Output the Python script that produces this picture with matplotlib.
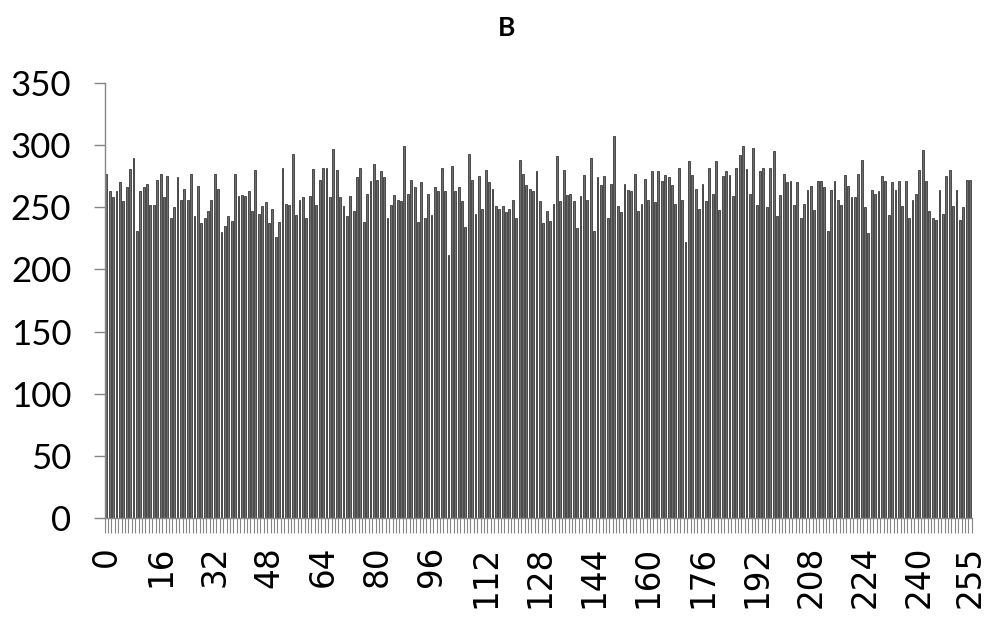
import numpy as np
import matplotlib
matplotlib.use("Agg")
import matplotlib.pyplot as plt

# Histogram counts for values 0..255
counts = [
    277, 263, 258, 263, 270, 255, 266, 281, 290, 231, 263, 266, 269, 252, 252, 272,
    277, 258, 275, 241, 250, 274, 256, 265, 256, 277, 243, 267, 237, 241, 247, 256,
    277, 265, 230, 235, 243, 239, 277, 259, 260, 259, 263, 247, 280, 245, 251, 254,
    237, 249, 226, 238, 282, 253, 252, 293, 244, 256, 258, 241, 259, 281, 252, 272,
    282, 282, 258, 297, 280, 258, 251, 243, 259, 247, 274, 282, 238, 261, 271, 285,
    272, 279, 274, 241, 252, 260, 256, 255, 299, 261, 272, 266, 238, 270, 241, 261,
    244, 266, 263, 282, 263, 212, 283, 263, 266, 255, 234, 293, 272, 245, 275, 249,
    280, 270, 265, 251, 249, 251, 246, 249, 256, 241, 288, 277, 268, 265, 263, 279,
    255, 237, 247, 239, 253, 291, 255, 280, 260, 261, 255, 233, 259, 276, 256, 290,
    231, 274, 268, 275, 241, 269, 307, 251, 246, 269, 264, 263, 277, 247, 253, 273,
    256, 279, 254, 279, 271, 276, 274, 268, 253, 282, 256, 222, 287, 276, 265, 249,
    269, 255, 282, 261, 287, 248, 275, 279, 276, 259, 282, 292, 299, 281, 261, 298,
    252, 279, 282, 250, 282, 295, 243, 260, 277, 270, 271, 252, 270, 241, 253, 264,
    267, 248, 271, 271, 266, 231, 264, 271, 256, 252, 276, 267, 258, 258, 277, 288,
    250, 229, 264, 261, 263, 275, 271, 244, 270, 264, 271, 251, 271, 241, 256, 261,
    280, 296, 271, 247, 241, 240, 264, 245, 275, 280, 251, 264, 240, 250, 272, 272,
]
levels = np.arange(len(counts))
label_levels = [0, 16, 32, 48, 64, 80, 96, 112, 128, 144, 160, 176, 192, 208, 224, 240, 255]
y_ticks = [0, 50, 100, 150, 200, 250, 300, 350]
title = "B"

fig = plt.figure(figsize=(10, 6.18), dpi=100)
ax = fig.add_axes([0.1047, 0.1618, 0.867, 0.7039])

ax.bar(levels, counts, width=0.55, color="#6e6e6e", edgecolor="#1e1e1e", linewidth=0.5)

ax.set_xlim(-0.5, len(counts) - 0.5)
ax.set_ylim(0, 350)

ax.set_yticks(y_ticks)
ax.set_yticklabels([str(v) for v in y_ticks], family="Lato", fontsize=25)
ax.tick_params(axis="y", length=8, width=1, color="#868686", pad=16)

ax.set_xticks(label_levels)
ax.set_xticklabels([str(v) for v in label_levels], rotation=90,
                   family="DejaVu Sans", fontsize=23.5, va="top")
ax.set_xticks(np.arange(len(counts) + 1) - 0.5, minor=True)
ax.tick_params(axis="x", which="major", length=0, pad=20)
ax.tick_params(axis="x", which="minor", length=11, width=0.8, color="#868686")

for side in ["top", "right"]:
    ax.spines[side].set_visible(False)
for side in ["left", "bottom"]:
    ax.spines[side].set_color("#868686")
    ax.spines[side].set_linewidth(1)

fig.text(0.507, 1 - 28 / 618, title, family="Lato", fontweight="bold",
         fontsize=19, ha="center", va="center")

fig.savefig("out.png", dpi=100)
